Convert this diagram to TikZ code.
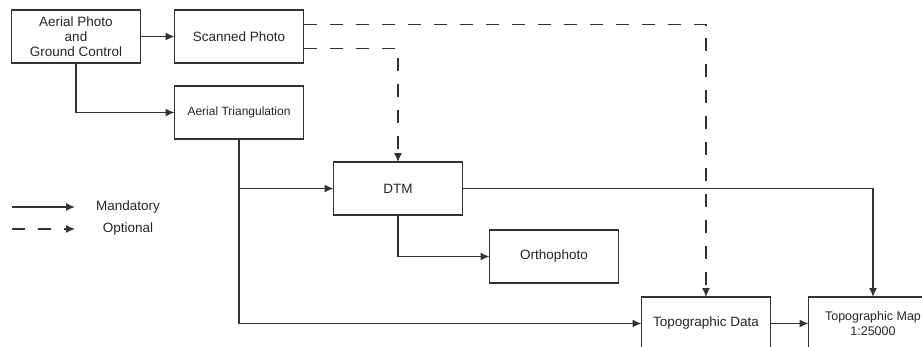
\documentclass[tikz,border=0pt]{standalone}
\usepackage{fontspec}
\setmainfont{Liberation Sans}
\usetikzlibrary{positioning,arrows.meta}

\begin{document}
\begin{tikzpicture}[x=1pt, y=1pt, line width=1.4pt, draw=black!80,
    every node/.style={font=\fontsize{13.5}{15}\selectfont, text=black!85},
    box/.style={rectangle, draw=black!80, minimum width=129pt, minimum height=53pt, inner sep=2pt, outer sep=0pt, align=center},
    legend/.style={draw=none},
    must/.style={-{Latex[length=9pt,width=8pt]}, draw=black!80},
    maybe/.style={-{Latex[length=9pt,width=8pt]}, draw=black!80, dash pattern=on 13pt off 13pt}]
			\useasboundingbox (0,0) rectangle (922,-346);
			\clip (0,0) rectangle (922,-346);
			
			% vstupni data
			\node[box] (A) at (76,-36.5) {Aerial Photo\\and\\Ground Control};
			\node[box, right=34pt of A] (B) {Scanned Photo};
			\node[box, below=23pt of B, font=\fontsize{12}{14}\selectfont] (C) {Aerial Triangulation};
			
			% produkty
			\node[box, below right=23pt and 30pt of C] (D) {DTM};
			\node[box, below right=15pt and 27pt of D] (E) {Orthophoto};
			\node[box, below right=14pt and 23pt of E] (F) {Topographic Data};
			\node[box, right=38pt of F, font=\fontsize{12.5}{15}\selectfont] (G) {Topographic Map\\1:25000};
			
			% povinne sipky
			\draw[must] (A) -- (B);
			\draw[must] (A) |- (C);
			\draw[must] (C.south) |- (D.west);
			\draw[must] (C.south) |- (F.west);
			\draw[must] (D.south) |- (E.west);
			\draw[must] (D.east) -| (G.north);
			\draw[must] (F) -- (G);
			
			% volitelne sipky
			\draw[maybe] ([yshift=12pt]B.east) -| (F.north);
			\draw[maybe] ([yshift=-12pt]B.east) -| (D.north);
			
			% legenda
			\coordinate (L1) at (12,-207);
			\coordinate (L2) at (75,-207);
			\coordinate (L3) at (12,-229);
			\coordinate (L4) at (75,-229);
			\draw[must] (L1) -- (L2);
			\draw[maybe] (L3) -- (L4);
			\node[legend] (M) at (128,-207) {Mandatory};
			\node[legend] (O) at (128,-229) {Optional};
		\end{tikzpicture}
\end{document}
